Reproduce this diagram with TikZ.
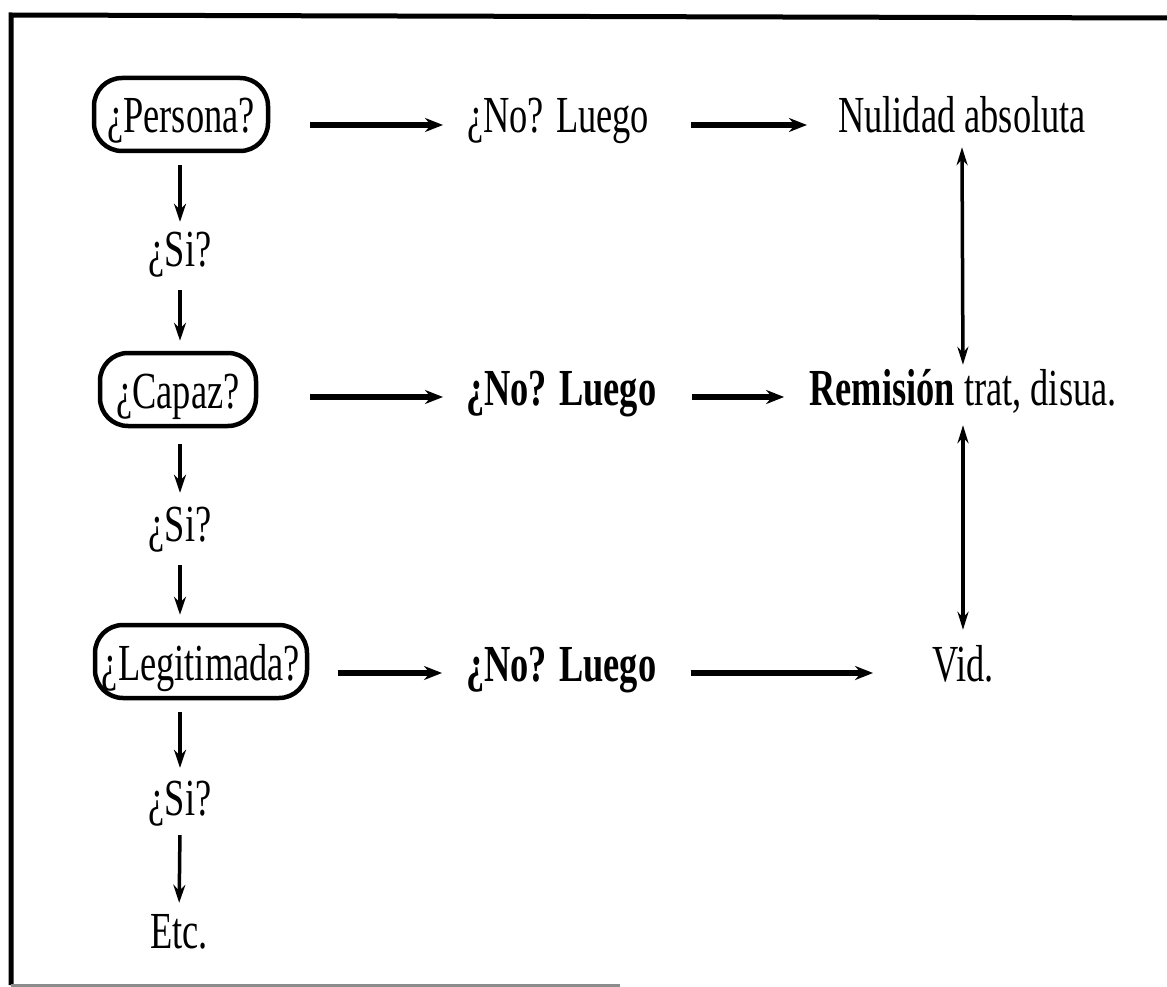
\documentclass[tikz,border=0pt]{standalone}
\usepackage{fontspec}
\setmainfont{Liberation Serif}[FakeStretch=0.7]
\usetikzlibrary{arrows.meta}
\begin{document}
\begin{tikzpicture}[x=1pt,y=-1pt,
  lbl/.style={inner sep=0pt, anchor=base, text height=30pt, text depth=14pt, font=\fontsize{52}{60}\selectfont},
  qbox/.style={draw, line width=4.5pt, rounded corners=28pt, inner xsep=2pt, inner ysep=0pt, minimum height=73pt, text height=37pt, text depth=0pt, font=\fontsize{52}{60}\selectfont},
  harr/.style={line width=5.5pt, -{Stealth[length=18pt,width=14pt]}},
  varr/.style={line width=3.5pt, -{Stealth[length=18pt,width=12pt]}},
  darr/.style={line width=3.5pt, {Stealth[length=18pt,width=11pt]}-{Stealth[length=18pt,width=11pt]}},
  frame/.style={line width=5pt},
  framebot/.style={line width=3pt, black!45},
]
\useasboundingbox (0,0) rectangle (1167,987);
% frame
\draw[frame] (11,985) -- (11,15) -- (1167,18);
\draw[framebot] (11,985) -- (620,985);

% left column
\node[qbox, minimum width=174pt] (persona) at (181,114.5) {¿Persona?};
\node[lbl] (si1) at (180,266) {¿Si?};
\node[qbox, minimum width=156pt] (capaz) at (178,389.5) {¿Capaz?};
\node[lbl] (si2) at (180,541) {¿Si?};
\node[qbox, minimum width=212pt] (legit) at (201,661.5) {¿Legitimada?};
\node[lbl] (si3) at (180,815) {¿Si?};
\node[lbl] (etc) at (179,948) {Etc.};

% middle column
\node[lbl, anchor=base west] (no1) at (467,133) {¿No? Luego};
\node[lbl, anchor=base west] (no2) at (466,405) {\bfseries ¿No? Luego};
\node[lbl, anchor=base west] (no3) at (466,681) {\bfseries ¿No? Luego};

% right column
\node[lbl] (nul) at (962,133) {Nulidad absoluta};
\node[lbl] (rem) at (963,405) {\textbf{Remisión} trat, disua.};
\node[lbl] (vid) at (963,681) {Vid.};

% vertical arrows, left
\draw[varr, shorten <=12pt, shorten >=14pt] (persona.south -| si1.north) -- (si1.north);
\draw[varr, shorten <=10pt, shorten >=10pt] (si1.south) -- (capaz.north -| si1.south);
\draw[varr, shorten <=16pt, shorten >=18pt] (capaz.south -| si2.north) -- (si2.north);
\draw[varr, shorten <=10pt, shorten >=8pt] (si2.south) -- (legit.north -| si2.south);
\draw[varr, shorten <=12pt, shorten >=17pt] (legit.south -| si3.north) -- (si3.north);
\draw[varr, shorten <=6pt, shorten >=15pt] (si3.south) -- (etc.north);

% horizontal arrows
\draw[harr, shorten <=40pt, shorten >=24pt] (persona.east |- no1.west) -- (no1.west);
\draw[harr, shorten <=42pt, shorten >=31pt] (no1.east) -- (nul.west);
\draw[harr, shorten <=52pt, shorten >=23pt] (capaz.east |- no2.west) -- (no2.west);
\draw[harr, shorten <=35pt, shorten >=25pt] (no2.east) -- (rem.west);
\draw[harr, shorten <=29pt, shorten >=24pt] (legit.east |- no3.west) -- (no3.west);
\draw[harr, shorten <=34pt, shorten >=59pt] (no3.east) -- (vid.west);

% vertical double arrows, right
\draw[darr, shorten >=10pt] (nul.south) -- (rem.north);
\draw[darr, shorten <=6pt, shorten >=21pt] (rem.south) -- (vid.north);
\end{tikzpicture}
\end{document}
